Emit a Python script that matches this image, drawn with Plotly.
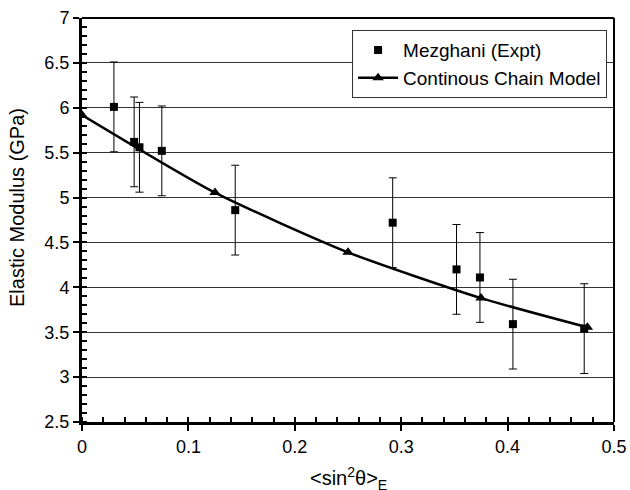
import plotly.graph_objects as go

# Experimental data (Mezghani)
expt_x = [0.030, 0.049, 0.054, 0.075, 0.144, 0.292, 0.352, 0.374, 0.405, 0.472]
expt_y = [6.01, 5.62, 5.56, 5.52, 4.86, 4.72, 4.20, 4.11, 3.59, 3.54]
expt_err = [0.5, 0.5, 0.5, 0.5, 0.5, 0.5, 0.5, 0.5, 0.5, 0.5]

# Continuous chain model
model_x = [0.0, 0.125, 0.25, 0.375, 0.475]
model_y = [5.92, 5.055, 4.39, 3.88, 3.555]

x_ticks = [0, 0.1, 0.2, 0.3, 0.4, 0.5]
x_tick_labels = ["0", "0.1", "0.2", "0.3", "0.4", "0.5"]
y_ticks = [2.5, 3, 3.5, 4, 4.5, 5, 5.5, 6, 6.5, 7]
y_tick_labels = ["2.5", "3", "3.5", "4", "4.5", "5", "5.5", "6", "6.5", "7"]

x_title = "<sin<sup>2</sup>θ><sub>E</sub>"
y_title = "Elastic Modulus (GPa)"

FONT = "Liberation Sans, Arial, Helvetica, sans-serif"

fig = go.Figure()
fig.add_trace(go.Scatter(
    x=expt_x, y=expt_y, mode="markers", name="Mezghani (Expt)",
    marker=dict(symbol="square", size=8, color="black"),
    error_y=dict(type="data", array=expt_err, visible=True, color="black",
                 thickness=1, width=4),
))
fig.add_trace(go.Scatter(
    x=model_x, y=model_y, mode="lines+markers", name="Continous Chain Model",
    line=dict(color="black", width=2.5, shape="spline", smoothing=0.6),
    marker=dict(symbol="triangle-up", size=10, color="black"),
))

axis_common = dict(
    showline=True, linecolor="black", linewidth=3,
    ticks="outside", ticklen=6, tickwidth=2, tickcolor="black",
    zeroline=False, automargin=False,
    tickfont=dict(family=FONT, size=18, color="black"),
)

fig.update_xaxes(
    range=[0, 0.5], tickvals=x_ticks, ticktext=x_tick_labels,
    showgrid=False,
    minor=dict(dtick=0.02, ticks="inside", ticklen=5, tickwidth=2,
               tickcolor="black", showgrid=False),
    **axis_common,
)
fig.update_yaxes(
    range=[2.5, 7], tickvals=y_ticks, ticktext=y_tick_labels,
    showgrid=True, gridcolor="#333333", gridwidth=1,
    minor=dict(dtick=0.1, ticks="inside", ticklen=5, tickwidth=2,
               tickcolor="black", showgrid=False),
    **axis_common,
)

# axis titles
fig.add_annotation(text=x_title, xref="paper", yref="paper", x=0.5, y=-0.1,
                   xanchor="center", yanchor="top", showarrow=False,
                   font=dict(family=FONT, size=20, color="black"))
fig.add_annotation(text=y_title, xref="paper", yref="paper", x=-0.122, y=0.53,
                   xanchor="center", yanchor="middle", textangle=-90,
                   showarrow=False,
                   font=dict(family=FONT, size=20, color="black"))

# top and right frame
fig.add_shape(type="line", xref="paper", yref="paper", x0=0, x1=1, y0=1, y1=1,
              line=dict(color="black", width=2))
fig.add_shape(type="line", xref="paper", yref="paper", x0=1, x1=1, y0=0, y1=1,
              line=dict(color="black", width=2))

fig.update_layout(
    width=630, height=490,
    margin=dict(l=82, r=16, t=18, b=68),
    plot_bgcolor="white", paper_bgcolor="white",
    font=dict(family=FONT, color="black"),
    legend=dict(
        x=0.987, y=0.97, xanchor="right", yanchor="top",
        bgcolor="white", bordercolor="#333", borderwidth=1,
        font=dict(family=FONT, size=19, color="black"),
        itemwidth=40, tracegroupgap=0,
    ),
)

fig.write_html("out.html", config={"displayModeBar": False},
               post_script="document.body.style.margin='0px';")
